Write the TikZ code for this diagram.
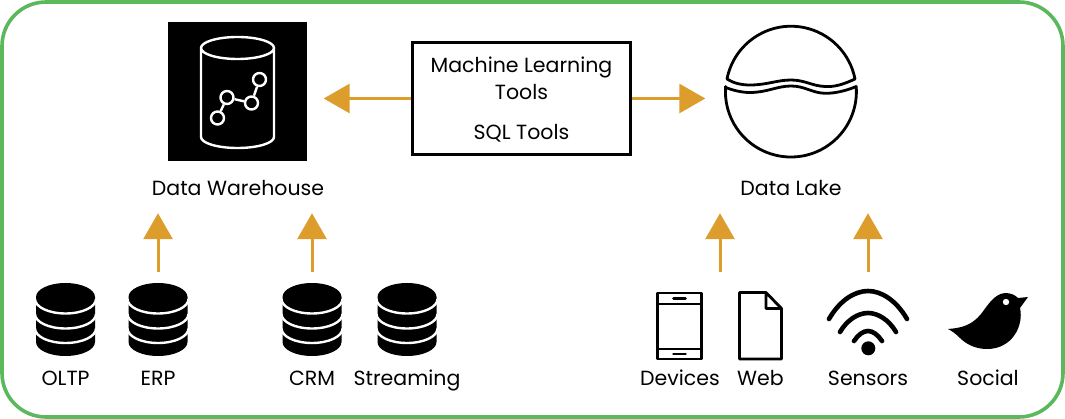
\documentclass[tikz,border=0pt]{standalone}
\usepackage{fontspec}
\setmainfont{Poppins}
\usetikzlibrary{arrows.meta}
\definecolor{flowcol}{HTML}{DD9D2C}
\definecolor{framecol}{HTML}{5CB85C}
\begin{document}
\begin{tikzpicture}[x=1pt,y=-1pt,
    tag/.style = {inner sep=0pt,text height=18pt,text depth=3pt,font=\fontsize{20.5}{22}\selectfont},
    slot/.style = {inner sep=0pt},
    flow/.style = {draw=flowcol,line width=3pt,-{Triangle[length=26pt,width=29pt,fill=flowcol]}},
    outline/.style = {line width=2.8pt,line join=round},
    wave/.style = {line width=4.6pt,line cap=round}]

      \useasboundingbox (0,0) rectangle (1065,419);
      \draw[framecol,line width=3.6pt,rounded corners=44pt] (2,2) rectangle (1063,417);

      \node[fill=black,inner sep=0pt,minimum width=139pt,minimum height=139pt](dw) at (237,92){};
      \draw[white,line width=2.4pt] (201,48) arc[start angle=180,end angle=-180,x radius=36.5,y radius=11]
        -- (201,137) arc[start angle=180,end angle=0,x radius=36.5,y radius=11] -- (274,48);
      \node[draw=white,line width=2.4pt,circle,inner sep=0pt,minimum size=13pt](g1) at (217.5,118){};
      \node[draw=white,line width=2.4pt,circle,inner sep=0pt,minimum size=13pt](g2) at (227,97.5){};
      \node[draw=white,line width=2.4pt,circle,inner sep=0pt,minimum size=13pt](g3) at (251.5,103){};
      \node[draw=white,line width=2.4pt,circle,inner sep=0pt,minimum size=13pt](g4) at (259.5,79.5){};
      \draw[white,line width=2.4pt] (g1) -- (g2) (g2) -- (g3) (g3) -- (g4);
      \node[tag](dwtext) at (238,188){Data Warehouse};

      \node[slot,minimum width=131pt,minimum height=127pt](lake) at (791,91.5){};
      \draw[outline] (727,79) arc[start angle=191,end angle=349,radius=65.2]
        .. controls (842,85) and (834,87) .. (825,86.5)
        .. controls (812,86) and (805,80) .. (791,80)
        .. controls (777,80) and (767,85) .. (750,85)
        .. controls (741,85) and (733,83) .. (727,79) -- cycle;
      \draw[outline] (725.8,87.5) .. controls (732,90) and (741,92.5) .. (750,92.5)
        .. controls (767,92.5) and (777,86) .. (791,86)
        .. controls (805,86) and (812,93) .. (825,93.3)
        .. controls (836,93.5) and (848,90) .. (856.2,86.5)
        arc[start angle=-4.4,end angle=184.4,radius=65.5] -- cycle;
      \node[tag](laketext) at (791,188){Data Lake};

      \node[draw,line width=3pt,inner sep=0pt,minimum width=218pt,minimum height=112pt](tools) at (521.5,98.5){};
      \node[tag](mltext) at (521.5,65){Machine Learning};
      \node[tag](toolstext) at (521.5,92){Tools};
      \node[tag](sqltext) at (521.5,132){SQL Tools};

      \foreach \name/\x/\txt in {oltp/65.5/OLTP,erp/158/ERP,crm/312/CRM,streaming/407/Streaming}{
        \node[slot,minimum width=59pt,minimum height=73pt](\name) at (\x,319.5){};
        \fill[black] (\x-29.5,297) arc[start angle=180,end angle=-180,x radius=29.5,y radius=14]
          -- (\x-29.5,342) arc[start angle=180,end angle=0,x radius=29.5,y radius=14] -- (\x+29.5,297) -- cycle;
        \foreach \y in {299,314,328.5}
          \draw[white,line width=2.4pt] (\x-30.5,\y) arc[start angle=180,end angle=0,x radius=30.5,y radius=14.5];
        \node[tag](\name text) at (\x,378){\txt};
      }

      \node[slot,minimum width=45pt,minimum height=66pt](devices) at (679.5,326){};
      \draw[outline] (657.5,293) rectangle (701.5,359) (657.5,304) -- (701.5,304) (657.5,349) -- (701.5,349);
      \draw[outline,line cap=round] (673.5,298.5) -- (685.5,298.5) (673.5,354) -- (685.5,354);
      \node[tag](devicestext) at (680,378){Devices};

      \node[slot,minimum width=43pt,minimum height=67pt](web) at (760.5,325.5){};
      \draw[outline] (739.5,292.5) -- (766,292.5) -- (781.5,308.5) -- (781.5,359) -- (739.5,359) -- cycle
        (766,292.5) -- (766,308.5) -- (781.5,308.5);
      \node[tag](webtext) at (760.5,378){Web};
      \coordinate (devweb) at (720,292);

      \node[slot,minimum width=80pt,minimum height=65pt](sensors) at (868,323){};
      \fill (868.3,348.3) circle[radius=7];
      \draw[wave] (829,319) .. controls (840,300) and (855,291) .. (868,291)
        .. controls (881,291) and (896,300) .. (907,319);
      \draw[wave] (840,332) .. controls (847,320) and (858,313) .. (868,313)
        .. controls (878,313) and (889,320) .. (896,332);
      \draw[wave] (854,341) .. controls (858,335) and (863,331) .. (868,331)
        .. controls (873,331) and (878,335) .. (882,341);
      \node[tag](sensorstext) at (868,378){Sensors};

      \node[slot,minimum width=80pt,minimum height=57pt](social) at (988,321){};
      \fill (948,329) .. controls (962,328) and (972,325) .. (981,314)
        .. controls (988,305) and (994,294) .. (1005,293)
        .. controls (1011,293) and (1015,295) .. (1018,298) -- (1028,297) -- (1020,308)
        .. controls (1024,326) and (1012,349) .. (987,349)
        .. controls (975,349) and (966,344) .. (960,338)
        .. controls (956,334) and (952,331) .. (948,329) -- cycle;
      \fill[white] (1006,302) circle[radius=3.2];
      \node[tag](socialtext) at (988,378){Social};

      \draw[flow,shorten >=17pt] (tools.west) -- (tools.west -| dw.east);
      \draw[flow,shorten >=20pt] (tools.east) -- (tools.east -| lake.west);
      \draw[flow,shorten <=11pt,shorten >=14.5pt] (erp.north) -- (erp.north |- dwtext.south);
      \draw[flow,shorten <=11pt,shorten >=14.5pt] (crm.north) -- (crm.north |- dwtext.south);
      \draw[flow,shorten <=20pt,shorten >=14.5pt] (devweb) -- (devweb |- laketext.south);
      \draw[flow,shorten <=18pt,shorten >=14.5pt] (sensors.north) -- (sensors.north |- laketext.south);
\end{tikzpicture}
\end{document}
